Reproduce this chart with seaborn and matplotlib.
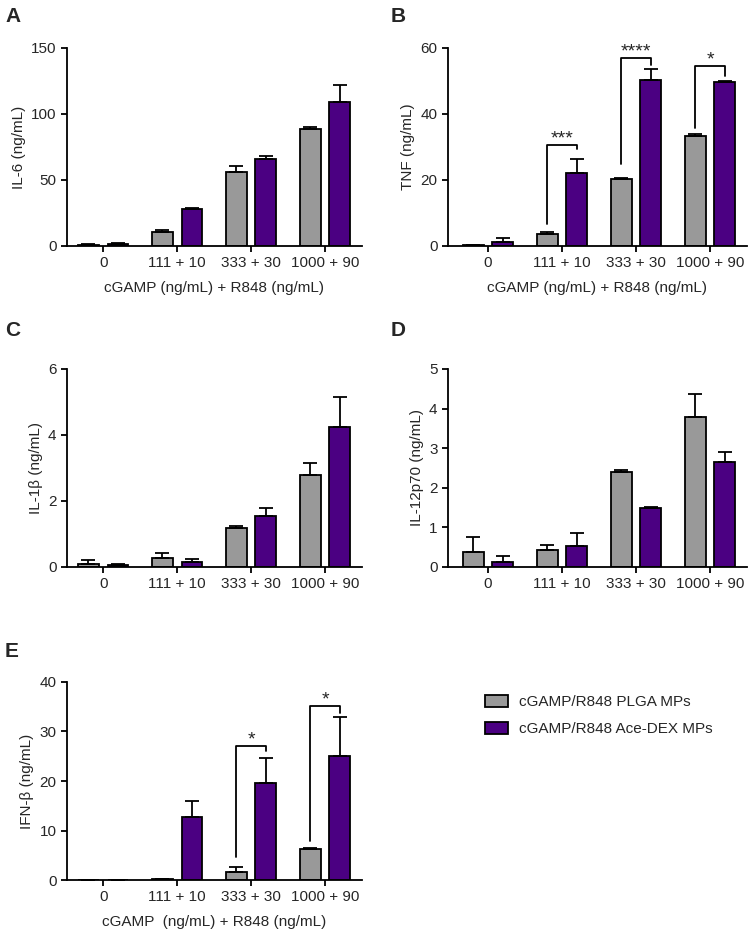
import numpy as np
import pandas as pd
import matplotlib
matplotlib.use("Agg")
import matplotlib.pyplot as plt
import seaborn as sns
from matplotlib.patches import Patch

# categories and groups
doses = ["0", "111 + 10", "333 + 30", "1000 + 90"]
groups = ["cGAMP/R848 PLGA MPs", "cGAMP/R848 Ace-DEX MPs"]
colors = ["#999999", "#4b0082"]

# values (mean, upper error)
il6_plga = [1.0, 10.6, 55.8, 88.9]
il6_plga_err = [0.5, 1.3, 4.6, 1.5]
il6_dex = [1.5, 28.0, 65.7, 109.1]
il6_dex_err = [1.0, 0.5, 2.5, 12.9]

tnf_plga = [0.3, 3.7, 20.4, 33.3]
tnf_plga_err = [0.1, 0.5, 0.2, 0.6]
tnf_dex = [1.2, 22.1, 50.2, 49.8]
tnf_dex_err = [1.1, 4.3, 3.4, 0.1]

il1b_plga = [0.10, 0.27, 1.19, 2.78]
il1b_plga_err = [0.10, 0.14, 0.04, 0.37]
il1b_dex = [0.05, 0.16, 1.55, 4.25]
il1b_dex_err = [0.05, 0.08, 0.25, 0.89]

il12_plga = [0.38, 0.42, 2.40, 3.79]
il12_plga_err = [0.38, 0.145, 0.05, 0.59]
il12_dex = [0.135, 0.52, 1.49, 2.66]
il12_dex_err = [0.135, 0.35, 0.02, 0.24]

ifnb_plga = [0.0, 0.15, 1.7, 6.2]
ifnb_plga_err = [0.0, 0.1, 0.9, 0.2]
ifnb_dex = [0.0, 12.7, 19.6, 25.1]
ifnb_dex_err = [0.0, 3.2, 5.0, 7.8]

# significance brackets: (dose index, left leg bottom, top, right leg bottom, label)
tnf_sig = [(1, 6.8, 30.5, 29.4, "***"), (2, 24.8, 57.0, 54.7, "****"), (3, 35.8, 54.4, 51.4, "*")]
ifnb_sig = [(2, 4.6, 27.1, 26.0, "*"), (3, 7.9, 35.2, 33.7, "*")]

xlabel = "cGAMP (ng/mL) + R848 (ng/mL)"

sns.set_style("ticks")
plt.rcParams["font.family"] = ["Liberation Sans", "DejaVu Sans"]
plt.rcParams["font.size"] = 11

fig = plt.figure(figsize=(7.5, 9.35), dpi=100)

panels = [
    ("A", [0.0893, 0.7369, 0.3933, 0.2118], (5, 7), "IL-6 (ng/mL)", il6_plga, il6_plga_err, il6_dex, il6_dex_err,
     [0, 50, 100, 150], xlabel, [], (-0.49, 3.5)),
    ("B", [0.5973, 0.7369, 0.3987, 0.2118], (391, 7), "TNF (ng/mL)", tnf_plga, tnf_plga_err, tnf_dex, tnf_dex_err,
     [0, 20, 40, 60], xlabel, tnf_sig, (-0.54, 3.5)),
    ("C", [0.0893, 0.3936, 0.3933, 0.2118], (5, 321), "IL-1\u03b2 (ng/mL)", il1b_plga, il1b_plga_err, il1b_dex, il1b_dex_err,
     [0, 2, 4, 6], "", [], (-0.49, 3.5)),
    ("D", [0.5973, 0.3936, 0.3987, 0.2118], (391, 321), "IL-12p70 (ng/mL)", il12_plga, il12_plga_err, il12_dex, il12_dex_err,
     [0, 1, 2, 3, 4, 5], "", [], (-0.54, 3.5)),
    ("E", [0.0893, 0.0588, 0.3933, 0.2118], (5, 642), "IFN-\u03b2 (ng/mL)", ifnb_plga, ifnb_plga_err, ifnb_dex, ifnb_dex_err,
     [0, 10, 20, 30, 40], "cGAMP  (ng/mL) + R848 (ng/mL)", ifnb_sig, (-0.49, 3.5)),
]

for letter, rect, lpos, ylab, v1, e1, v2, e2, yticks, xlab, sig, xlim in panels:
    ax = fig.add_axes(rect)
    df = pd.DataFrame({
        "dose": doses * 2,
        "group": [groups[0]] * 4 + [groups[1]] * 4,
        "value": v1 + v2,
    })
    sns.barplot(data=df, x="dose", y="value", hue="group", order=doses, hue_order=groups,
                palette=colors, edgecolor="black", linewidth=1.3, gap=0.3, errorbar=None,
                legend=False, saturation=1, ax=ax)

    centers = []
    for cont, vals, errs in zip(ax.containers, [v1, v2], [e1, e2]):
        xs = [p.get_x() + p.get_width() / 2 for p in cont]
        centers.append(xs)
        ax.errorbar(xs, vals, yerr=[np.zeros(len(errs)), errs], fmt="none", ecolor="black",
                    elinewidth=1.3, capsize=5, capthick=1.3, zorder=1)

    for i, yl, yt, yr, lab in sig:
        x0, x1 = centers[0][i], centers[1][i]
        ax.plot([x0, x0, x1, x1], [yl, yt, yt, yr], color="black", lw=1.3, clip_on=False)
        ax.text((x0 + x1) / 2, yt - yticks[-1] * 0.012, lab, ha="center", va="bottom", fontsize=14)

    ax.set_ylim(0, yticks[-1])
    ax.set_yticks(yticks)
    ax.set_xlim(*xlim)
    ax.set_ylabel(ylab, fontsize=11)
    ax.set_xlabel(xlab, fontsize=11, labelpad=8)
    ax.tick_params(axis="both", labelsize=11, length=4, width=1.3, color="black")
    ax.tick_params(axis="x", pad=3)
    for s in ["left", "bottom"]:
        ax.spines[s].set_linewidth(1.3)
        ax.spines[s].set_color("black")
    sns.despine(ax=ax)

    fig.text(lpos[0] / 750, 1 - lpos[1] / 935, letter,
             fontsize=15, fontweight="bold", ha="left", va="top")

handles = [Patch(facecolor=c, edgecolor="black", linewidth=1.3) for c in colors]
fig.legend(handles, groups, loc="upper left", bbox_to_anchor=(477 / 750, 1 - 687 / 935),
           frameon=False, borderpad=0, handlelength=1.5, handleheight=0.85, handletextpad=0.75,
           labelspacing=0.85, fontsize=11)

fig.savefig("out.png", dpi=100)
